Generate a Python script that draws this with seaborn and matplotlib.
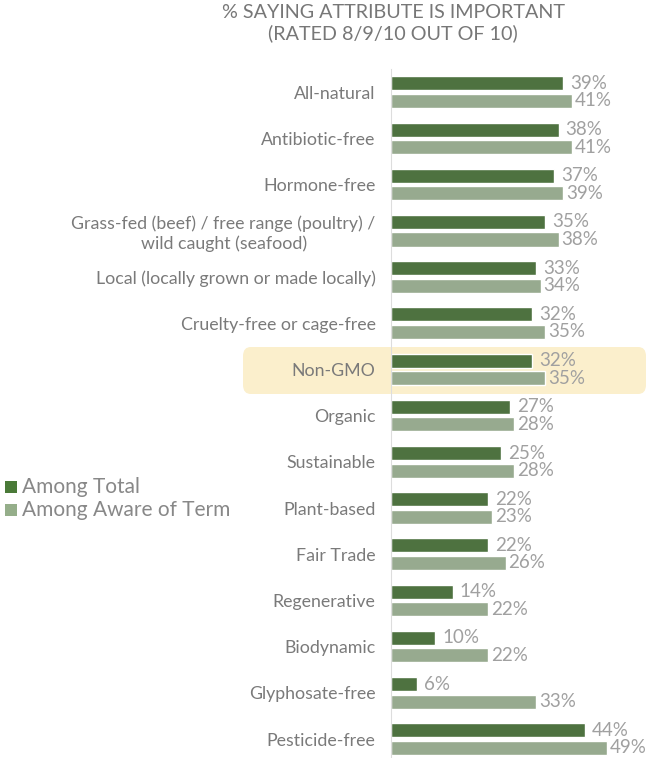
import pandas as pd
import matplotlib.pyplot as plt
import seaborn as sns
from matplotlib.patches import FancyBboxPatch, Rectangle

# Values
attributes = ["All-natural", "Antibiotic-free", "Hormone-free",
              "Grass-fed (beef) / free range (poultry) /\nwild caught (seafood)",
              "Local (locally grown or made locally)", "Cruelty-free or cage-free",
              "Non-GMO", "Organic", "Sustainable", "Plant-based", "Fair Trade",
              "Regenerative", "Biodynamic", "Glyphosate-free", "Pesticide-free"]
among_total = [39, 38, 37, 35, 33, 32, 32, 27, 25, 22, 22, 14, 10, 6, 44]
among_aware = [41, 41, 39, 38, 34, 35, 35, 28, 28, 23, 26, 22, 22, 33, 49]
series = ["Among Total", "Among Aware of Term"]
colors = ["#4a7a38", "#95ae8a"]

df = pd.DataFrame({
    "attribute": attributes * 2,
    "value": among_total + among_aware,
    "series": [series[0]] * len(attributes) + [series[1]] * len(attributes),
})

sns.set_style("white")
plt.rcParams["font.family"] = ["Lato", "DejaVu Sans"]

fig = plt.figure(figsize=(6.52, 7.58), dpi=100)
ax = fig.add_axes([391 / 652, 0, 261 / 652, 689 / 758])
ax.patch.set_alpha(0)

# highlight box behind Non-GMO
box = FancyBboxPatch((243 / 652, (758 - 394) / 758), 403 / 652, 47 / 758,
                     boxstyle="round,pad=0,rounding_size=0.012",
                     transform=fig.transFigure, facecolor="#fbefcc",
                     edgecolor="none", zorder=-1)
fig.patches.append(box)

sns.barplot(data=df, y="attribute", x="value", hue="series", palette=colors,
            orient="h", width=0.76, gap=0.2, legend=False, ax=ax)

for i, cont in enumerate(ax.containers):
    ax.bar_label(cont, labels=[f"{v:.0f}%" for v in cont.datavalues],
                 padding=5 if i == 0 else 2, color="#a0a0a0", fontsize=13.5)

ax.set_xlim(0, 59.2)
ax.set_ylim(14.41, -0.5)
ax.set_xlabel("")
ax.set_ylabel("")
ax.set_xticks([])
ax.tick_params(axis="y", length=0, pad=11)
for lab in ax.get_yticklabels():
    lab.set_color("#7a7a7a")
    lab.set_fontsize(12.8)
    lab.set_multialignment("center")
    lab.set_ha("right")
for s in ["top", "right", "bottom"]:
    ax.spines[s].set_visible(False)
ax.spines["left"].set_color("#dddddd")
ax.spines["left"].set_linewidth(0.8)

fig.text(393 / 652, 1 - 4 / 758, "% SAYING ATTRIBUTE IS IMPORTANT\n(RATED 8/9/10 OUT OF 10)",
         ha="center", va="top", fontsize=14.2, color="#777777", linespacing=1.2)

# legend
for j, name in enumerate(series):
    yc = 1 - (487 + 23 * j) / 758
    fig.patches.append(Rectangle((5 / 652, yc - 6 / 758), 12 / 652, 12 / 758,
                                 transform=fig.transFigure, facecolor=colors[j],
                                 edgecolor="none"))
    fig.text(22 / 652, yc, name, ha="left", va="center", fontsize=15, color="#888888")

fig.savefig("out.png", dpi=100)
